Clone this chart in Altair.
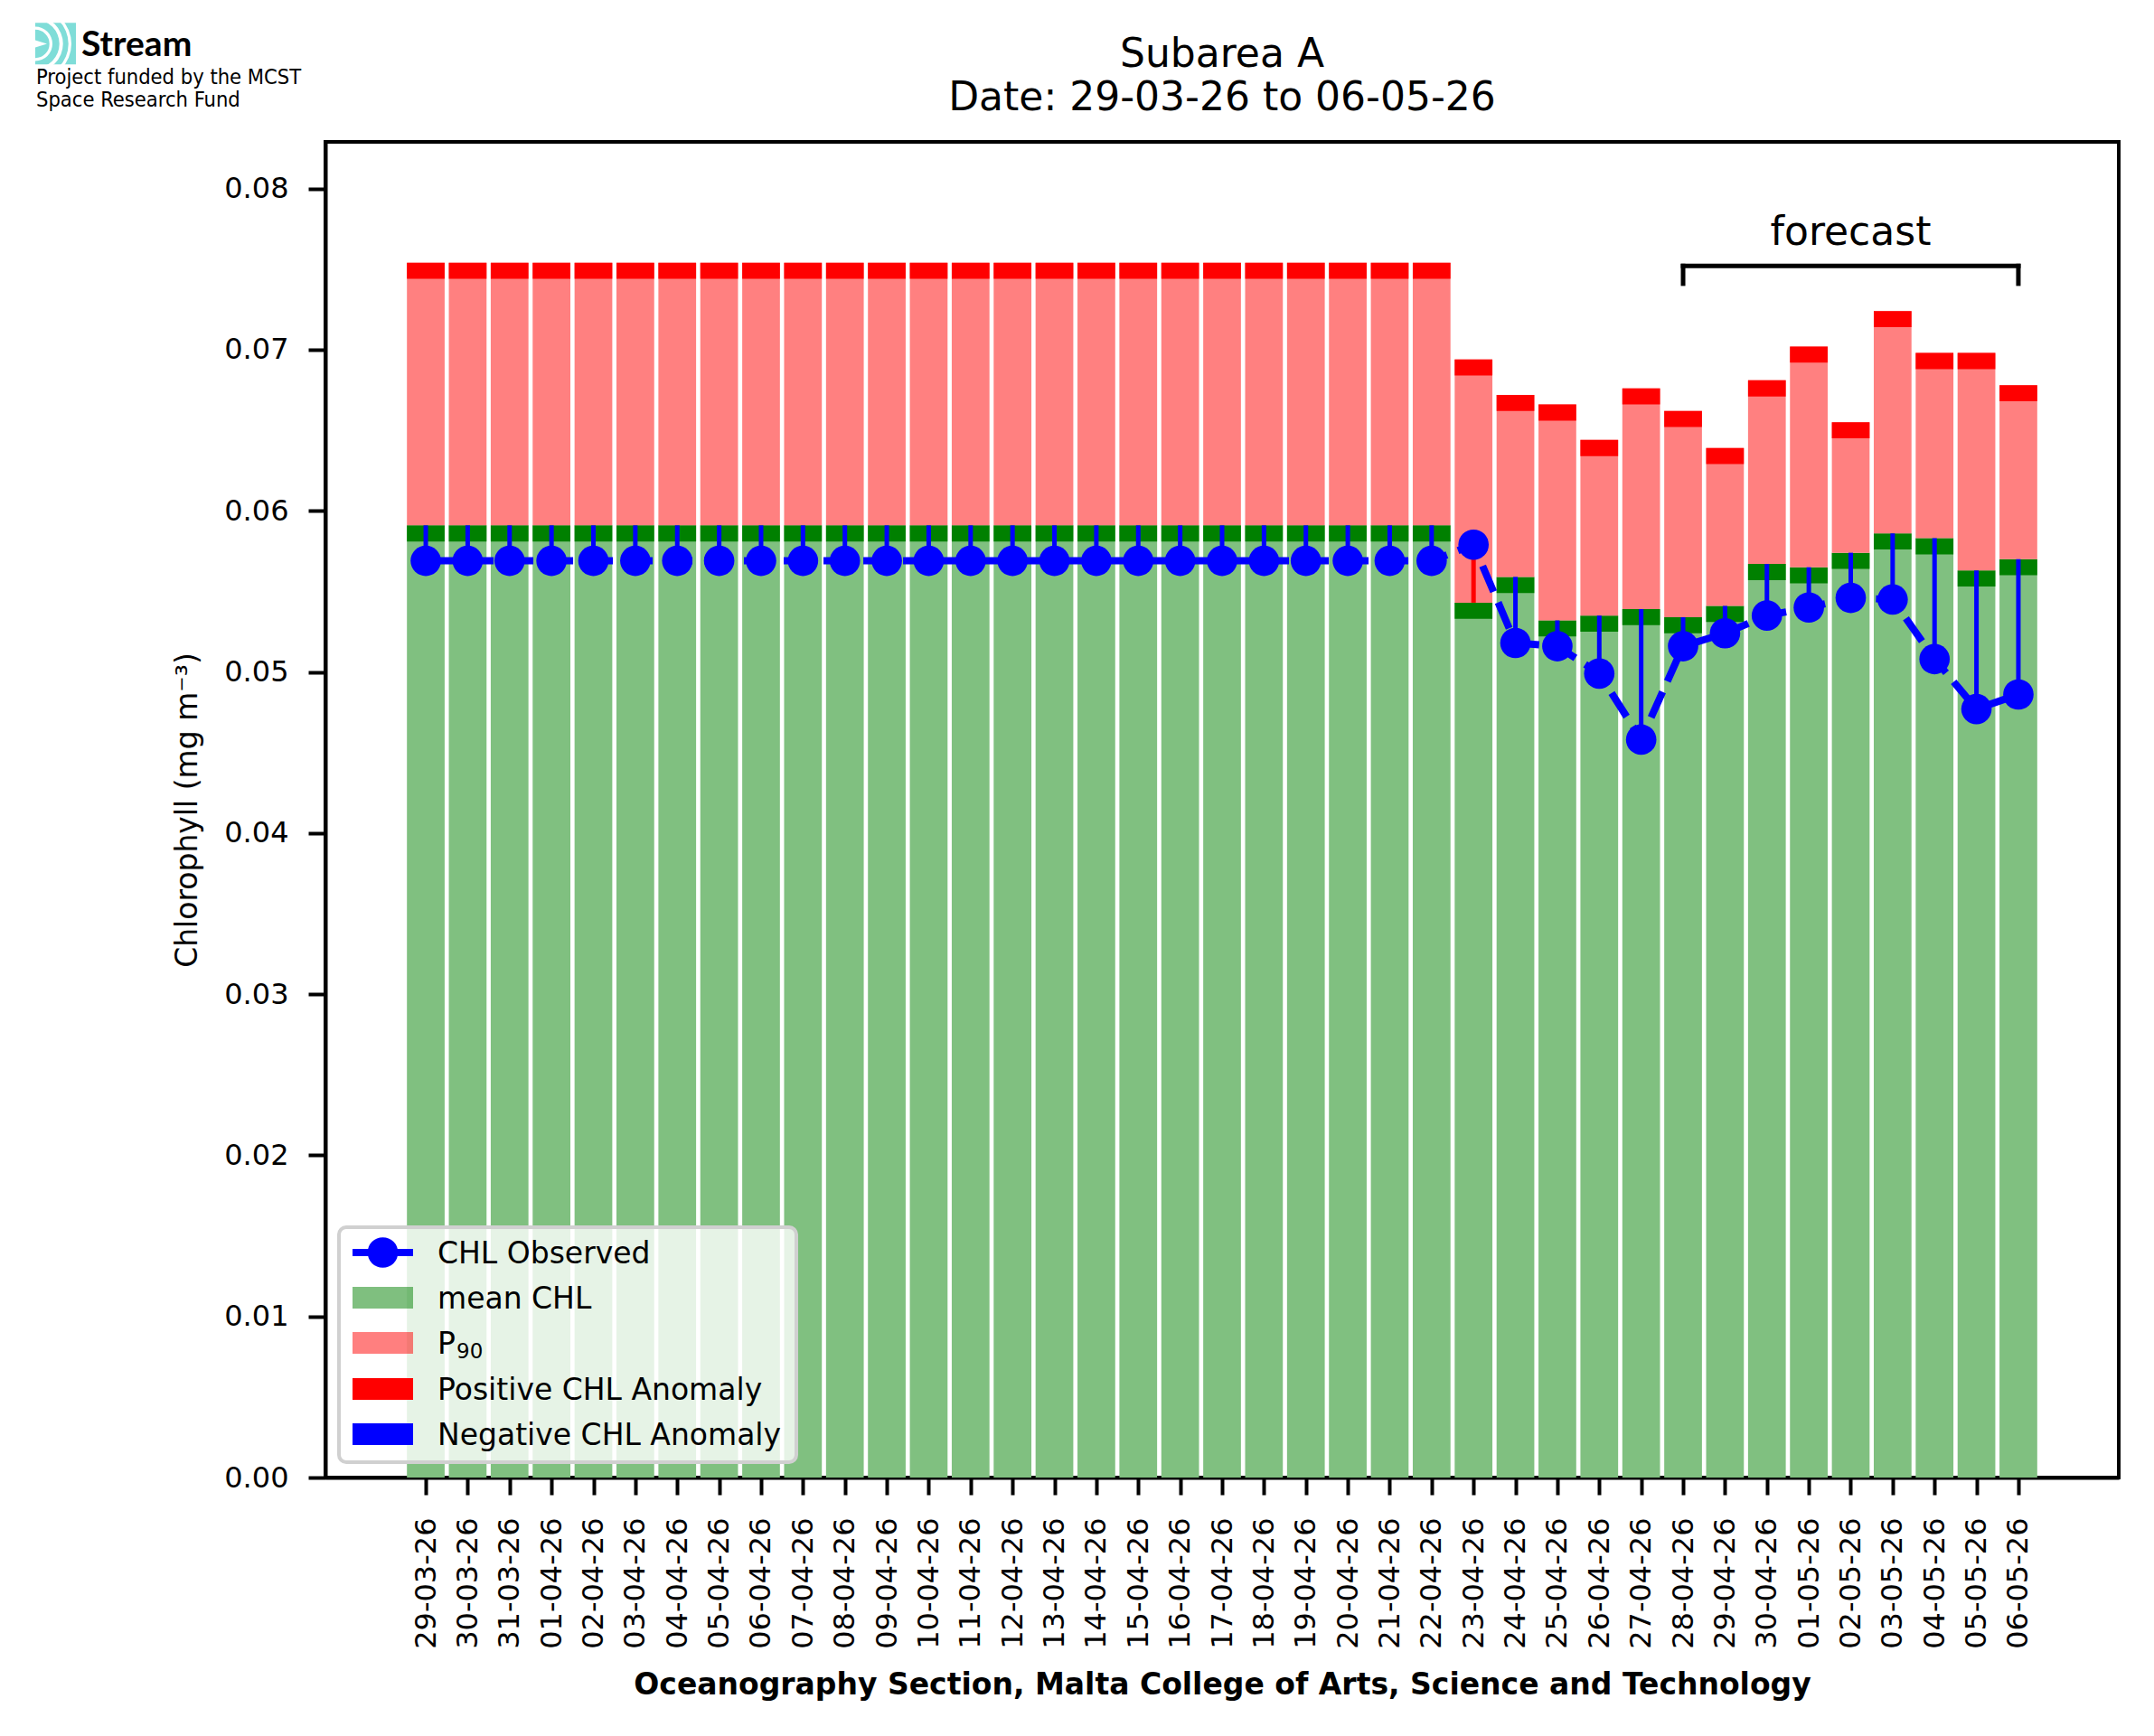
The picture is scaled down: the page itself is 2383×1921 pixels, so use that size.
import altair as alt
import pandas as pd

# --- data ---
dates = [
    "29-03-26", "30-03-26", "31-03-26", "01-04-26", "02-04-26", "03-04-26",
    "04-04-26", "05-04-26", "06-04-26", "07-04-26", "08-04-26", "09-04-26",
    "10-04-26", "11-04-26", "12-04-26", "13-04-26", "14-04-26", "15-04-26",
    "16-04-26", "17-04-26", "18-04-26", "19-04-26", "20-04-26", "21-04-26",
    "22-04-26", "23-04-26", "24-04-26", "25-04-26", "26-04-26", "27-04-26",
    "28-04-26", "29-04-26", "30-04-26", "01-05-26", "02-05-26", "03-05-26",
    "04-05-26", "05-05-26", "06-05-26",
]
mean_chl = [
    0.0591, 0.0591, 0.0591, 0.0591, 0.0591, 0.0591, 0.0591, 0.0591, 0.0591,
    0.0591, 0.0591, 0.0591, 0.0591, 0.0591, 0.0591, 0.0591, 0.0591, 0.0591,
    0.0591, 0.0591, 0.0591, 0.0591, 0.0591, 0.0591, 0.0591,
    0.0543, 0.0559, 0.0532, 0.0535, 0.0539, 0.0534, 0.0541, 0.0567, 0.0565,
    0.0574, 0.0586, 0.0583, 0.0563, 0.0570,
]
p90_chl = [
    0.0754, 0.0754, 0.0754, 0.0754, 0.0754, 0.0754, 0.0754, 0.0754, 0.0754,
    0.0754, 0.0754, 0.0754, 0.0754, 0.0754, 0.0754, 0.0754, 0.0754, 0.0754,
    0.0754, 0.0754, 0.0754, 0.0754, 0.0754, 0.0754, 0.0754,
    0.0694, 0.0672, 0.0666, 0.0644, 0.0676, 0.0662, 0.0639, 0.0681, 0.0702,
    0.0655, 0.0724, 0.0698, 0.0698, 0.0678,
]
obs_chl = [
    0.0569, 0.0569, 0.0569, 0.0569, 0.0569, 0.0569, 0.0569, 0.0569, 0.0569,
    0.0569, 0.0569, 0.0569, 0.0569, 0.0569, 0.0569, 0.0569, 0.0569, 0.0569,
    0.0569, 0.0569, 0.0569, 0.0569, 0.0569, 0.0569, 0.0569,
    0.0579, 0.0518, 0.0516, 0.0499, 0.0458, 0.0516, 0.0524, 0.0535, 0.0540,
    0.0546, 0.0545, 0.0508, 0.0477, 0.0486,
]
y_ticks = [0.0, 0.01, 0.02, 0.03, 0.04, 0.05, 0.06, 0.07, 0.08]
legend_labels = ["CHL Observed", "mean CHL", "P", "Positive CHL Anomaly", "Negative CHL Anomaly"]
p90_sub = "90"
title_lines = ["Subarea A", "Date: 29-03-26 to 06-05-26"]
forecast_label = "forecast"
forecast_start, forecast_end = "28-04-26", "06-05-26"

# --- layout / style ---
W, H = 1984, 1478
FONT = "DejaVu Sans"
HALF = 0.45          # half bar width
BAND = 0.001         # thickness of the dark green / red caps
BRACKET_Y, BRACKET_TICK, FORECAST_Y = 0.0752, 0.0741, 0.0765
LIGHT_GREEN, PINK = "#80C080", "#FF8080"

n = len(dates)
margin = 0.05 * (n - 1 + 2 * HALF)
x_scale = alt.Scale(domain=[-HALF - margin, n - 1 + HALF + margin], nice=False, zero=False)
y_scale = alt.Scale(domain=[0, 0.0829], nice=False)

label_expr = "[" + ",".join(f"'{d}'" for d in dates) + "][datum.value]"
x_axis = alt.Axis(
    values=list(range(n)), labelExpr=label_expr, labelAngle=270, labelAlign="right",
    labelBaseline="middle", labelPadding=25, grid=False,
    title="Oceanography Section, Malta College of Arts, Science and Technology",
    titleFontWeight="bold", titleFontSize=33, titleY=239, titleBaseline="alphabetic",
)
y_axis = alt.Axis(
    values=y_ticks, format=".2f", labelPadding=22, grid=False,
    title="Chlorophyll (mg m⁻³)", titleFontWeight="normal", titleFontSize=33,
    titleX=-143, titleY=H / 2, titleAngle=270, titleAlign="center", titleBaseline="alphabetic",
)


def X(f):
    return alt.X(f"{f}:Q", scale=x_scale, axis=x_axis)


def Y(f):
    return alt.Y(f"{f}:Q", scale=y_scale, axis=y_axis)


df = pd.DataFrame({"date": dates, "mean": mean_chl, "p90": p90_chl, "obs": obs_chl})
df["i"] = range(n)
df["x0"] = df["i"] - HALF
df["x1"] = df["i"] + HALF
df["zero"] = 0.0
df["mean_lo"] = df["mean"] - BAND
df["p90_lo"] = df["p90"] - BAND

base = alt.Chart(df)

green = base.mark_rect(color=LIGHT_GREEN).encode(x=X("x0"), x2="x1", y=Y("zero"), y2="mean")
dark = base.mark_rect(color="#008000").encode(x=X("x0"), x2="x1", y=Y("mean_lo"), y2="mean")
pink = base.mark_rect(color=PINK).encode(x=X("x0"), x2="x1", y=Y("mean"), y2="p90")
red = base.mark_rect(color="#FF0000").encode(x=X("x0"), x2="x1", y=Y("p90_lo"), y2="p90")

neg = base.transform_filter("datum.obs < datum.mean").mark_rule(
    color="blue", strokeWidth=5).encode(x=X("i"), y=Y("obs"), y2="mean")
pos = base.transform_filter("datum.obs >= datum.mean").mark_rule(
    color="red", strokeWidth=5).encode(x=X("i"), y=Y("obs"), y2="mean")
line = base.mark_line(color="blue", strokeWidth=8, strokeDash=[31, 13]).encode(x=X("i"), y=Y("obs"))
dots = base.mark_circle(color="blue", size=1134, opacity=1).encode(x=X("i"), y=Y("obs"))

# forecast bracket
fdf = pd.DataFrame({
    "a": [dates.index(forecast_start)], "b": [dates.index(forecast_end)],
    "y": [BRACKET_Y], "yt": [BRACKET_TICK], "ty": [FORECAST_Y], "label": [forecast_label],
})
fdf["mid"] = (fdf["a"] + fdf["b"]) / 2
fbase = alt.Chart(fdf)
br_h = fbase.mark_rule(color="black", strokeWidth=5, strokeCap="square").encode(x=X("a"), x2="b", y=Y("y"))
br_l = fbase.mark_rule(color="black", strokeWidth=5, strokeCap="square").encode(x=X("a"), y=Y("yt"), y2="y")
br_r = fbase.mark_rule(color="black", strokeWidth=5, strokeCap="square").encode(x=X("b"), y=Y("yt"), y2="y")
f_txt = fbase.mark_text(font=FONT, fontSize=44, align="center", baseline="alphabetic").encode(
    x=X("mid"), y=Y("ty"), text="label:N")

one = alt.Chart(pd.DataFrame({"k": [0]}))


def txt(s, x, y, size, align="left", font=FONT, weight="normal"):
    return one.mark_text(text=s, font=font, fontSize=size, fontWeight=weight,
                         align=align, baseline="alphabetic", color="black").encode(
        x=alt.value(x), y=alt.value(y))


# title
titles = [txt(title_lines[0], W / 2, -83, 44, "center"), txt(title_lines[1], W / 2, -35, 44, "center")]

# logo
logo = [
    one.mark_rect(color="#7FDDD8").encode(x=alt.value(-321), x2=alt.value(-276),
                                          y=alt.value(-131.7), y2=alt.value(-85.7)),
]
for r2, r in [(15.7, 19), (26.7, 30.7), (36.7, 40)]:
    logo.append(one.mark_arc(color="white", radius=r, radius2=r2, theta=0, theta2=3.14159).encode(
        x=alt.value(-321), y=alt.value(-108.5)))
logo.append(one.mark_point(shape="M-1,-0.6L1,0L-1,0.6Z", filled=True, color="white",
                           opacity=1, size=169).encode(x=alt.value(-314.5), y=alt.value(-108.5)))
logo += [
    txt("Stream", -270, -95.3, 39, font="Lato", weight="bold"),
    txt("Project funded by the MCST", -320, -64.3, 23.5, font="DejaVu Sans Condensed"),
    txt("Space Research Fund", -320, -39, 23.5, font="DejaVu Sans Condensed"),
]

# legend
rows = [1229, 1279, 1329, 1380, 1430]
patch_style = [None, ("#008000", 0.5), ("#FF0000", 0.5), ("#FF0000", 1), ("#0000FF", 1)]
legend = [
    one.mark_rect(fill="white", fillOpacity=0.8, stroke="#D0D0D0", strokeWidth=4, cornerRadius=8).encode(
        x=alt.value(15), x2=alt.value(521), y=alt.value(1201), y2=alt.value(1461)),
    one.mark_rule(color="blue", strokeWidth=8).encode(x=alt.value(30), x2=alt.value(97), y=alt.value(rows[0])),
    one.mark_circle(color="blue", size=1134, opacity=1).encode(x=alt.value(63.5), y=alt.value(rows[0])),
]
for k, (lab, yc) in enumerate(zip(legend_labels, rows)):
    if patch_style[k] is not None:
        col, op = patch_style[k]
        legend.append(one.mark_rect(color=col, opacity=op).encode(
            x=alt.value(30), x2=alt.value(97), y=alt.value(yc - 12), y2=alt.value(yc + 12)))
    legend.append(txt(lab, 124, yc + 12, 33))
# subscript of P90
legend.append(txt(p90_sub, 145, rows[2] + 16.5, 23))

chart = alt.layer(
    green, dark, pink, red, neg, pos, line, dots, br_h, br_l, br_r, f_txt,
    *titles, *logo, *legend
).properties(
    width=W, height=H,
    padding={"left": 352, "top": 149, "right": 25, "bottom": 270},
    autosize=alt.AutoSizeParams(type="none"),
    background="white",
).configure_view(
    stroke="black", strokeWidth=4
).configure_axis(
    domainColor="black", domainWidth=4, tickColor="black", tickWidth=4, tickSize=19,
    labelFont=FONT, labelFontSize=32, labelColor="black",
    titleFont=FONT, titleColor="black", zindex=1,
)

chart.save("out.html", embed_options={"renderer": "svg", "actions": False})
